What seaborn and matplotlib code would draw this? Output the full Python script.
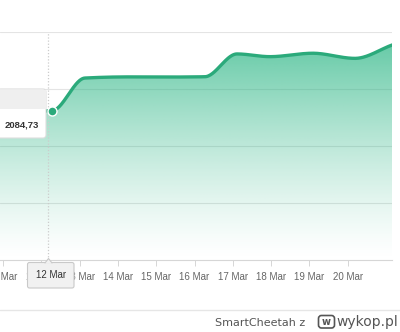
import numpy as np
import pandas as pd
import matplotlib
matplotlib.use("Agg")
import matplotlib.pyplot as plt
import seaborn as sns
from matplotlib.patches import FancyBboxPatch, Polygon, Rectangle

# ---------------- data ----------------
point_days = [10.90, 12.28, 13.14, 14.32, 15.36, 16.27, 17.11, 17.97, 19.09, 20.19, 21.16]
values = [2084.0, 2084.73, 2107.7, 2108.5, 2108.4, 2108.6, 2124.6, 2122.7, 2125.1, 2121.5, 2130.9]
tick_days = [11, 12, 13, 14, 15, 16, 17, 18, 19, 20]
tick_labels = ["11 Mar", "12 Mar", "13 Mar", "14 Mar", "15 Mar", "16 Mar",
               "17 Mar", "18 Mar", "19 Mar", "20 Mar"]
grid_values = [1980, 2020, 2060, 2100, 2140]
hover_index = 1
hover_label = "12 Mar"
hover_value_text = "2084,73"
crosshair_day = 12.17
footer_user = "SmartCheetah z"
footer_site = "wykop.pl"

df = pd.DataFrame({"day": point_days, "value": values})

LINE = "#2baa7b"
W, H = 400, 332


def monotone(x, y, n=600):
    x = np.asarray(x, float)
    y = np.asarray(y, float)
    h = np.diff(x)
    d = np.diff(y) / h
    m = np.zeros_like(y)
    m[0], m[-1] = d[0], d[-1]
    for i in range(1, len(y) - 1):
        if d[i - 1] * d[i] <= 0:
            m[i] = 0
        else:
            w1 = 2 * h[i] + h[i - 1]
            w2 = h[i] + 2 * h[i - 1]
            m[i] = (w1 + w2) / (w1 / d[i - 1] + w2 / d[i])
    xs = np.linspace(x[0], x[-1], n)
    idx = np.clip(np.searchsorted(x, xs) - 1, 0, len(x) - 2)
    t = (xs - x[idx]) / h[idx]
    h00 = 2 * t**3 - 3 * t**2 + 1
    h10 = t**3 - 2 * t**2 + t
    h01 = -2 * t**3 + 3 * t**2
    h11 = t**3 - t**2
    ys = h00 * y[idx] + h10 * h[idx] * m[idx] + h01 * y[idx + 1] + h11 * h[idx] * m[idx + 1]
    return xs, ys


sns.set_theme(style="white")
plt.rcParams["font.family"] = ["Liberation Sans", "DejaVu Sans"]

fig = plt.figure(figsize=(W / 100, H / 100), dpi=100)
fig.patch.set_facecolor("white")

ax_left, ax_right, ax_top, ax_bot = 0, 392, 32, 260
ax = fig.add_axes([ax_left / W, 1 - ax_bot / H, (ax_right - ax_left) / W, (ax_bot - ax_top) / H])
ax.set_facecolor("none")

x0 = 11 - 3 / 38.3
x1 = 11 + 389 / 38.3
ax.set_xlim(x0, x1)
ax.set_ylim(grid_values[0], grid_values[-1])

# grid lines
for gv in grid_values[1:]:
    ax.axhline(gv, color="#e4e4e4", lw=0.8, zorder=0)

# smooth line + gradient fill
xs, ys = monotone(df["day"], df["value"])
poly = Polygon(np.column_stack([np.r_[xs, xs[-1], xs[0]], np.r_[ys, grid_values[0], grid_values[0]]]),
               closed=True, facecolor="none", edgecolor="none", transform=ax.transData)
ax.add_patch(poly)
grad = np.zeros((256, 1, 4))
rgb = np.array([38, 180, 130]) / 255.0
grad[:, 0, 0:3] = rgb
grad[:, 0, 3] = 0.75 * np.linspace(0.0, 1.0, 256) ** 1.3
im = ax.imshow(grad, extent=[x0, x1, grid_values[0], grid_values[-1]], origin="lower",
               aspect="auto", zorder=1, interpolation="bilinear")
im.set_clip_path(poly)

ax.plot(xs, ys, color=LINE, lw=2.4, zorder=3, solid_capstyle="round")

# crosshair
ax.plot([crosshair_day, crosshair_day], [grid_values[0], grid_values[-1]],
        color="#cccccc", lw=0.9, ls=(0, (1, 1.5)), zorder=2)

# hovered point
sns.scatterplot(x=[point_days[hover_index]], y=[values[hover_index]], ax=ax, s=42,
                color=LINE, edgecolor="white", linewidth=1.0, zorder=5, legend=False)

# axes styling
for s in ["left", "right", "top"]:
    ax.spines[s].set_visible(False)
ax.spines["bottom"].set_color("#d6d6d6")
ax.spines["bottom"].set_linewidth(0.8)
ax.set_xticks(tick_days)
ax.set_xticklabels(tick_labels)
ax.set_yticks([])
ax.tick_params(axis="x", length=4, width=0.7, color="#d6d6d6", pad=4.5,
               labelsize=7.0, labelcolor="#666666", bottom=True)
ax.set_xlabel("")
ax.set_ylabel("")

# overlay in pixel coords for tooltips / footer
ov = fig.add_axes([0, 0, 1, 1], zorder=10)
ov.set_xlim(0, W)
ov.set_ylim(H, 0)
ov.axis("off")
ov.patch.set_alpha(0)

# left tooltip (value)
ov.add_patch(FancyBboxPatch((-10, 89), 56, 49, boxstyle="round,pad=0,rounding_size=3",
                            facecolor="white", edgecolor="#dedede", lw=0.8))
ov.add_patch(Rectangle((-10, 89.5), 55.6, 19, facecolor="#efefef", edgecolor="none"))
ov.text(22, 125, hover_value_text, ha="center", va="center", fontsize=6.8,
        fontweight="bold", color="#333333")

# bottom tooltip (date)
ov.add_patch(FancyBboxPatch((27.5, 262.5), 46.5, 25.5, boxstyle="round,pad=0,rounding_size=2",
                            facecolor="#f1f1f1", edgecolor="#c9c9c9", lw=0.8))
ov.add_patch(Polygon([[45, 263], [48.5, 258.5], [52, 263]], closed=True,
                     facecolor="#f1f1f1", edgecolor="none"))
ov.plot([45, 48.5, 52], [263, 258.5, 263], color="#c9c9c9", lw=0.8)
ov.text(51, 275.5, hover_label, ha="center", va="center", fontsize=7.0, color="#333333")

# footer
ov.plot([0, W], [310, 310], color="#e6e6e6", lw=1.0)
ov.text(305, 326, footer_user, ha="right", va="baseline", fontsize=8,
        color="#555555", family="DejaVu Sans")
ov.add_patch(FancyBboxPatch((318.5, 315.5), 16, 12.5, boxstyle="round,pad=0,rounding_size=3",
                            facecolor="none", edgecolor="#555555", lw=1.2))
ov.text(326.5, 322, "w", ha="center", va="center", fontsize=7, fontweight="bold",
        color="#555555", family="DejaVu Sans")
ov.text(336, 326, footer_site, ha="left", va="baseline", fontsize=10,
        color="#555555", family="DejaVu Sans")

fig.savefig("out.png", dpi=100)
